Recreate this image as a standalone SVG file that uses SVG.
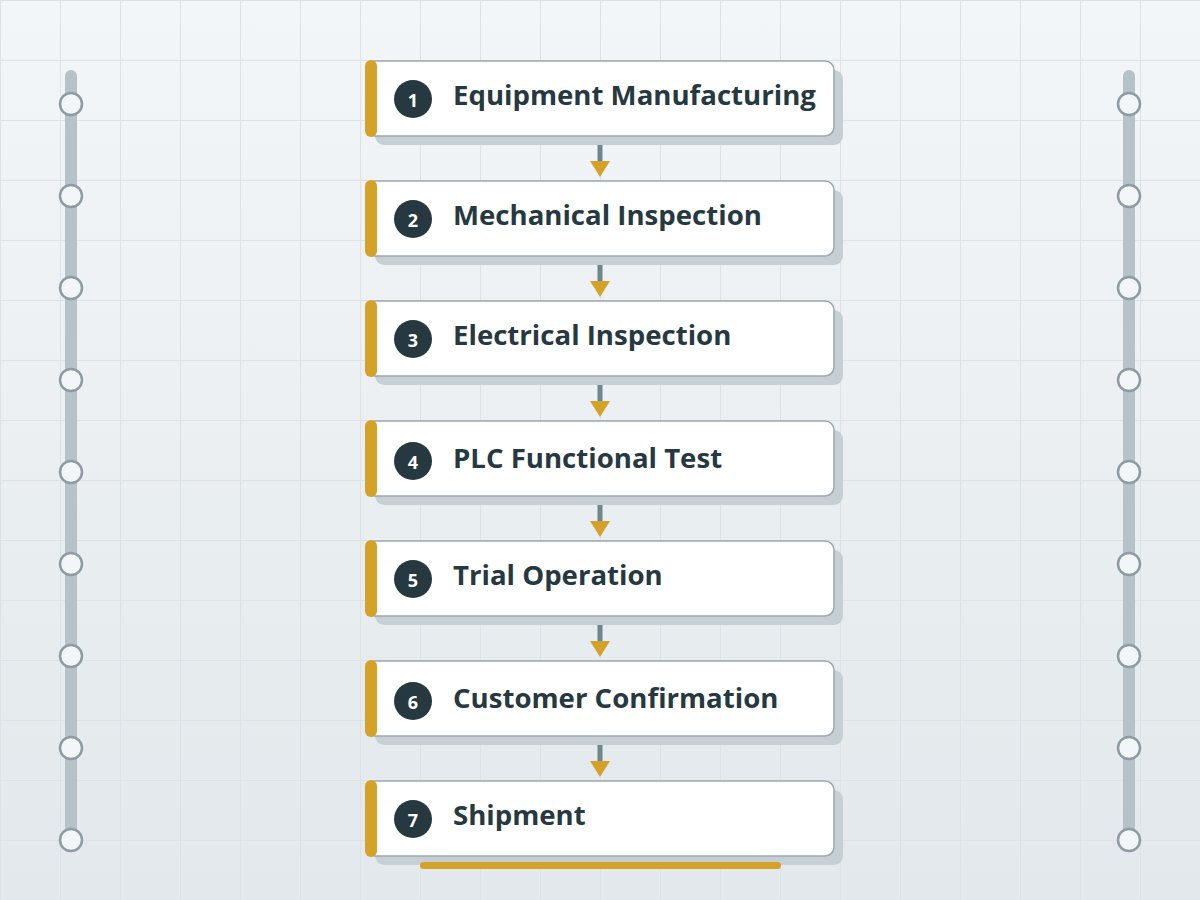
<svg xmlns="http://www.w3.org/2000/svg" width="1200" height="900" viewBox="0 0 1200 900">
  <defs>
    <linearGradient id="bg" x1="0" y1="0" x2="0" y2="1">
      <stop offset="0" stop-color="#f3f6f8"/>
      <stop offset="1" stop-color="#e2e8eb"/>
    </linearGradient>
    <pattern id="grid" x="0" y="0" width="60" height="60" patternUnits="userSpaceOnUse">
      <path d="M0.5 0 V60 M0 0.5 H60" stroke="#dce3e6" stroke-width="1.2" fill="none"/>
    </pattern>
    <style>
      .shadow { fill: #c6d0d4; }
      .card { fill: #ffffff; stroke: #9aa9ae; stroke-width: 1.5; }
      .accent { fill: #d5a229; }
      .badge { fill: #263840; }
      .num { fill: #ffffff; font-family: "Open Sans", "Noto Sans", sans-serif; font-weight: 700; font-size: 18px; text-anchor: middle; }
      .title { fill: #263840; font-family: "Open Sans", "Noto Sans", sans-serif; font-weight: 700; font-size: 27.6px; }
      .rail { fill: #b5c2c7; }
      .dot { fill: #f3f6f8; stroke: #8e9ca2; stroke-width: 2.5; }
      .stem { stroke: #6d8690; stroke-width: 5; }
      .head { fill: #d5a229; }
    </style>
  </defs>
  <rect width="1200" height="900" fill="url(#bg)"/>
  <rect width="1200" height="900" fill="url(#grid)"/>

  <g id="rail-left">
    <rect class="rail" x="65" y="70" width="12" height="770" rx="6"/>
    <circle class="dot" cx="71" cy="104" r="11"/>
    <circle class="dot" cx="71" cy="196" r="11"/>
    <circle class="dot" cx="71" cy="288" r="11"/>
    <circle class="dot" cx="71" cy="380" r="11"/>
    <circle class="dot" cx="71" cy="472" r="11"/>
    <circle class="dot" cx="71" cy="564" r="11"/>
    <circle class="dot" cx="71" cy="656" r="11"/>
    <circle class="dot" cx="71" cy="748" r="11"/>
    <circle class="dot" cx="71" cy="840" r="11"/>
  </g>
  <g id="rail-right">
    <rect class="rail" x="1123" y="70" width="12" height="770" rx="6"/>
    <circle class="dot" cx="1129" cy="104" r="11"/>
    <circle class="dot" cx="1129" cy="196" r="11"/>
    <circle class="dot" cx="1129" cy="288" r="11"/>
    <circle class="dot" cx="1129" cy="380" r="11"/>
    <circle class="dot" cx="1129" cy="472" r="11"/>
    <circle class="dot" cx="1129" cy="564" r="11"/>
    <circle class="dot" cx="1129" cy="656" r="11"/>
    <circle class="dot" cx="1129" cy="748" r="11"/>
    <circle class="dot" cx="1129" cy="840" r="11"/>
  </g>

  <g id="connectors">
    <line class="stem" x1="600" y1="145" x2="600" y2="163"/>
    <polygon class="head" points="590,161 610,161 600,177"/>
    <line class="stem" x1="600" y1="265" x2="600" y2="283"/>
    <polygon class="head" points="590,281 610,281 600,297"/>
    <line class="stem" x1="600" y1="385" x2="600" y2="403"/>
    <polygon class="head" points="590,401 610,401 600,417"/>
    <line class="stem" x1="600" y1="505" x2="600" y2="523"/>
    <polygon class="head" points="590,521 610,521 600,537"/>
    <line class="stem" x1="600" y1="625" x2="600" y2="643"/>
    <polygon class="head" points="590,641 610,641 600,657"/>
    <line class="stem" x1="600" y1="745" x2="600" y2="763"/>
    <polygon class="head" points="590,761 610,761 600,777"/>
  </g>

  <g id="node1">
    <rect class="shadow" x="375" y="70" width="468" height="75" rx="9"/>
    <rect class="card" x="366" y="61" width="468" height="75" rx="9"/>
    <rect class="accent" x="365" y="60" width="12" height="77" rx="6"/>
    <circle class="badge" cx="413" cy="99" r="19"/>
    <text class="num" x="413" y="107">1</text>
    <text class="title" x="453" y="104.5">Equipment Manufacturing</text>
  </g>
  <g id="node2">
    <rect class="shadow" x="375" y="190" width="468" height="75" rx="9"/>
    <rect class="card" x="366" y="181" width="468" height="75" rx="9"/>
    <rect class="accent" x="365" y="180" width="12" height="77" rx="6"/>
    <circle class="badge" cx="413" cy="219" r="19"/>
    <text class="num" x="413" y="227">2</text>
    <text class="title" x="453" y="224.5">Mechanical Inspection</text>
  </g>
  <g id="node3">
    <rect class="shadow" x="375" y="310" width="468" height="75" rx="9"/>
    <rect class="card" x="366" y="301" width="468" height="75" rx="9"/>
    <rect class="accent" x="365" y="300" width="12" height="77" rx="6"/>
    <circle class="badge" cx="413" cy="339" r="19"/>
    <text class="num" x="413" y="347">3</text>
    <text class="title" x="453" y="344.5">Electrical Inspection</text>
  </g>
  <g id="node4">
    <rect class="shadow" x="375" y="430" width="468" height="75" rx="9"/>
    <rect class="card" x="366" y="421" width="468" height="75" rx="9"/>
    <rect class="accent" x="365" y="420" width="12" height="77" rx="6"/>
    <circle class="badge" cx="413" cy="461" r="19"/>
    <text class="num" x="413" y="469">4</text>
    <text class="title" x="453" y="467.5">PLC Functional Test</text>
  </g>
  <g id="node5">
    <rect class="shadow" x="375" y="550" width="468" height="75" rx="9"/>
    <rect class="card" x="366" y="541" width="468" height="75" rx="9"/>
    <rect class="accent" x="365" y="540" width="12" height="77" rx="6"/>
    <circle class="badge" cx="413" cy="579" r="19"/>
    <text class="num" x="413" y="587">5</text>
    <text class="title" x="453" y="584.5">Trial Operation</text>
  </g>
  <g id="node6">
    <rect class="shadow" x="375" y="670" width="468" height="75" rx="9"/>
    <rect class="card" x="366" y="661" width="468" height="75" rx="9"/>
    <rect class="accent" x="365" y="660" width="12" height="77" rx="6"/>
    <circle class="badge" cx="413" cy="701" r="19"/>
    <text class="num" x="413" y="709">6</text>
    <text class="title" x="453" y="707.5">Customer Confirmation</text>
  </g>
  <g id="node7">
    <rect class="shadow" x="375" y="790" width="468" height="75" rx="9"/>
    <rect class="card" x="366" y="781" width="468" height="75" rx="9"/>
    <rect class="accent" x="365" y="780" width="12" height="77" rx="6"/>
    <circle class="badge" cx="413" cy="819" r="19"/>
    <text class="num" x="413" y="827">7</text>
    <text class="title" x="453" y="824.5">Shipment</text>
  </g>
  <rect id="base-bar" class="accent" x="420" y="862" width="361" height="7" rx="3.5"/>
</svg>
